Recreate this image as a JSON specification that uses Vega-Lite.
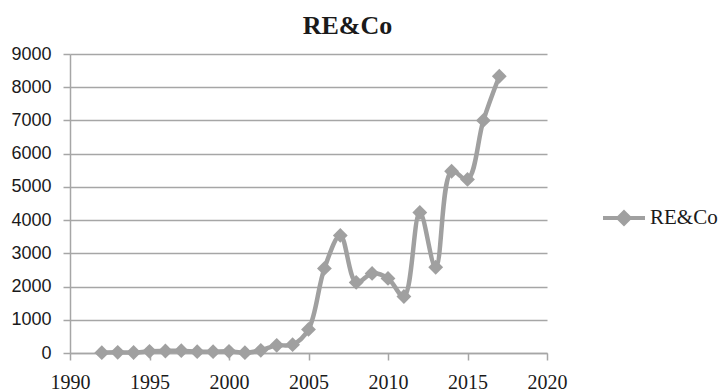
{
  "$schema": "https://vega.github.io/schema/vega-lite/v6.json",
  "autosize": {"type": "none"},
  "padding": {"left": 70, "top": 54, "right": 172, "bottom": 39},
  "width": 477,
  "height": 299,
  "background": "white",
  "title": {
    "text": "RE&Co",
    "font": "Liberation Serif",
    "fontSize": 26,
    "fontWeight": "bold",
    "color": "#1a1a1a",
    "anchor": "middle",
    "frame": "group",
    "dx": 39,
    "baseline": "alphabetic",
    "offset": -15
  },
  "data": {
    "values": [
      {"year": 1992, "value": 10, "series": "RE&Co"},
      {"year": 1993, "value": 20, "series": "RE&Co"},
      {"year": 1994, "value": 15, "series": "RE&Co"},
      {"year": 1995, "value": 50, "series": "RE&Co"},
      {"year": 1996, "value": 60, "series": "RE&Co"},
      {"year": 1997, "value": 70, "series": "RE&Co"},
      {"year": 1998, "value": 40, "series": "RE&Co"},
      {"year": 1999, "value": 40, "series": "RE&Co"},
      {"year": 2000, "value": 50, "series": "RE&Co"},
      {"year": 2001, "value": 10, "series": "RE&Co"},
      {"year": 2002, "value": 80, "series": "RE&Co"},
      {"year": 2003, "value": 230, "series": "RE&Co"},
      {"year": 2004, "value": 250, "series": "RE&Co"},
      {"year": 2005, "value": 710, "series": "RE&Co"},
      {"year": 2006, "value": 2545, "series": "RE&Co"},
      {"year": 2007, "value": 3540, "series": "RE&Co"},
      {"year": 2008, "value": 2125, "series": "RE&Co"},
      {"year": 2009, "value": 2395, "series": "RE&Co"},
      {"year": 2010, "value": 2245, "series": "RE&Co"},
      {"year": 2011, "value": 1700, "series": "RE&Co"},
      {"year": 2012, "value": 4230, "series": "RE&Co"},
      {"year": 2013, "value": 2580, "series": "RE&Co"},
      {"year": 2014, "value": 5470, "series": "RE&Co"},
      {"year": 2015, "value": 5225, "series": "RE&Co"},
      {"year": 2016, "value": 7000, "series": "RE&Co"},
      {"year": 2017, "value": 8330, "series": "RE&Co"}
    ]
  },
  "encoding": {
    "x": {
      "field": "year",
      "type": "quantitative",
      "scale": {"domain": [1990, 2020], "nice": false, "zero": false},
      "axis": {
        "title": null,
        "values": [1990, 1995, 2000, 2005, 2010, 2015, 2020],
        "format": "d",
        "grid": false,
        "domainColor": "#a6a6a6",
        "domainWidth": 1.5,
        "tickColor": "#a6a6a6",
        "tickWidth": 1.5,
        "tickSize": 7,
        "labelFont": "Liberation Serif",
        "labelFontSize": 20,
        "labelColor": "#1a1a1a",
        "labelPadding": 12,
        "labelFlush": false
      }
    },
    "y": {
      "field": "value",
      "type": "quantitative",
      "scale": {"domain": [0, 9000], "nice": false},
      "axis": {
        "title": null,
        "values": [0, 1000, 2000, 3000, 4000, 5000, 6000, 7000, 8000, 9000],
        "format": "d",
        "grid": true,
        "gridColor": "#a6a6a6",
        "gridWidth": 1.5,
        "domainColor": "#a6a6a6",
        "domainWidth": 1.5,
        "tickColor": "#a6a6a6",
        "tickWidth": 1.5,
        "tickSize": 7,
        "labelFont": "Liberation Sans",
        "labelFontSize": 18,
        "labelColor": "#1a1a1a",
        "labelPadding": 12
      }
    },
    "color": {
      "field": "series",
      "type": "nominal",
      "scale": {"domain": ["RE&Co"], "range": ["#a0a0a0"]},
      "legend": {
        "title": null,
        "orient": "none",
        "legendX": 531,
        "legendY": 141,
        "padding": 0,
        "symbolType": "M-1,0H1M0,-0.27L0.27,0L0,0.27L-0.27,0Z",
        "symbolSize": 1764,
        "symbolStrokeWidth": 4,
        "symbolFillColor": "#a0a0a0",
        "symbolStrokeColor": "#a0a0a0",
        "labelFont": "Liberation Serif",
        "labelFontSize": 21,
        "labelColor": "#1a1a1a",
        "labelOffset": 3
      }
    }
  },
  "layer": [
    {
      "mark": {"type": "line", "interpolate": "catmull-rom", "strokeWidth": 4.5}
    },
    {
      "mark": {"type": "point", "shape": "diamond", "filled": true, "size": 220, "opacity": 1, "color": "#999999"}
    }
  ],
  "config": {
    "view": {"stroke": null}
  }
}
